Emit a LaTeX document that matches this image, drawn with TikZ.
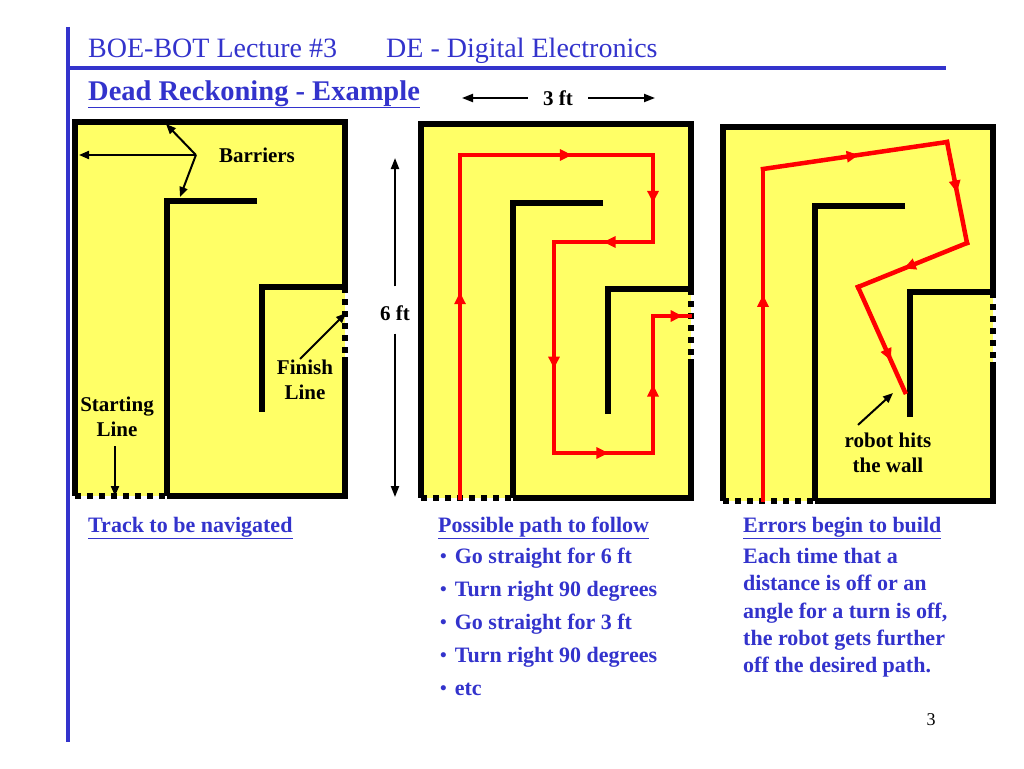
\documentclass[tikz,border=0pt]{standalone}
\usepackage{fontspec}
\setmainfont{Liberation Serif}
\usepackage{tikz}
\usetikzlibrary{arrows.meta,positioning,decorations.markings}
\definecolor{drBlue}{HTML}{3333CC}
\definecolor{drYellow}{HTML}{FFFF66}
\definecolor{drRed}{HTML}{FF0000}
\newcommand{\drdot}{{\fontsize{19}{19}\selectfont\raisebox{1.5pt}{\textbullet}}\hspace{8pt}}
\tikzset{
  drwall/.style={draw=black,line width=5.5pt,line join=miter},
  drgate/.style={draw=black,line width=5.5pt,dash pattern=on 6pt off 6pt},
  drpath/.style={draw=drRed,line width=4pt,line cap=rect},
  drstep/.style={drpath,postaction={decorate},
                 decoration={markings,mark=at position #1 with {\arrow{Triangle[length=12pt,width=11pt]}}}},
  drnote/.style={-{Triangle[length=10pt,width=8pt]},line width=2pt},
  drdim/.style={-{Triangle[length=11pt,width=8pt]},line width=2pt},
  drlbl/.style={font=\bfseries\fontsize{21}{25}\selectfont,align=center,inner sep=1pt},
  drcap/.style={font=\bfseries\fontsize{22}{26}\selectfont,text=drBlue,anchor=base west,inner sep=0pt},
  drtxt/.style={text=drBlue,align=left,anchor=north west,inner sep=0pt},
  maze/.pic={
    \fill[drYellow] (0,0) rectangle (270,374);
    \draw[drwall] (270,165) -- (270,0) -- (0,0) -- (0,374);
    \draw[drwall] (92,374) -- (270,374) -- (270,235);
    \draw[drgate] (270,165) -- (270,235);
    \draw[drgate] (0,374) -- (92,374);
    \draw[drwall] (182,79) -- (92,79) -- (92,374);
    \draw[drwall] (270,165) -- (187,165) -- (187,290);
  },
}

\begin{document}
\begin{tikzpicture}[x=1pt,y=-1pt]
  \useasboundingbox (0,0) rectangle (1024,768);
  \draw[drBlue,line width=4pt] (68,27) -- (68,742);
  \draw[drBlue,line width=4pt] (68,68) -- (946,68);
  \node[anchor=base west,inner sep=0pt,text=drBlue,font=\fontsize{28}{32}\selectfont] (hdr) at (88,57) {BOE-BOT Lecture \#3};
  \node[anchor=base west,inner sep=0pt,text=drBlue,font=\fontsize{28}{32}\selectfont] (subj) at (386,57) {DE - Digital Electronics};
  \node[anchor=base west,inner sep=0pt,text=drBlue,font=\bfseries\fontsize{28.5}{32}\selectfont] (title) at (88,100) {\underline{Dead Reckoning - Example}};

  \pic at (75,122) {maze};
  \pic at (421,124) {maze};
  \pic at (723,127) {maze};

  \node[drlbl] (barriers) at (257,155) {Barriers};
  \coordinate[left=22pt of barriers.west] (bj);
  \coordinate (bwTop) at (166,124);
  \coordinate (bwLeft) at (79,155);
  \coordinate (bwIn) at (180,197);
  \draw[drnote] (bj) -- (bwTop);
  \draw[drnote] (bj) -- (bwLeft);
  \draw[drnote] (bj) -- (bwIn);
  \node[drlbl] (finish) at (305,380) {Finish\\Line};
  \coordinate (fl) at (346,313);
  \draw[drnote] ([xshift=-5pt]finish.north) -- (fl);
  \node[drlbl] (start) at (117,417) {Starting\\Line};
  \coordinate (sl) at (115,496);
  \draw[drnote,shorten <=8pt] (start.south -| sl) -- (sl);

  \node[drlbl] (threeft) at (558,98) {3 ft};
  \coordinate (tfl) at (462,98);
  \coordinate (tfr) at (655,98);
  \draw[drdim,shorten <=14pt] (threeft.west) -- (tfl);
  \draw[drdim,shorten <=14pt] (threeft.east) -- (tfr);
  \node[drlbl] (sixft) at (395,313) {6 ft};
  \coordinate (sft) at (395,158);
  \coordinate (sfb) at (395,497);
  \draw[drdim,shorten <=18pt] (sixft.north) -- (sft);
  \draw[drdim,shorten <=12pt] (sixft.south) -- (sfb);

  \coordinate (a1) at (460,498);
  \coordinate (a2) at (460,155);
  \coordinate (a3) at (653,155);
  \coordinate (a4) at (653,242);
  \coordinate (a5) at (554,242);
  \coordinate (a6) at (554,453);
  \coordinate (a7) at (653,453);
  \coordinate (a8) at (653,316);
  \coordinate (a9) at (690,316);
  \draw[drstep=0.6] (a1) -- (a2);
  \draw[drstep=0.58] (a2) -- (a3);
  \draw[drstep=0.55] (a3) -- (a4);
  \draw[drstep=0.5] (a4) -- (a5);
  \draw[drstep=0.6] (a5) -- (a6);
  \draw[drstep=0.55] (a6) -- (a7);
  \draw[drstep=0.5] (a7) -- (a8);
  \draw[drstep=0.8] (a8) -- (a9);

  \coordinate (b1) at (763,500);
  \coordinate (b2) at (763,169);
  \coordinate (b3) at (947,142);
  \coordinate (b4) at (967,243);
  \coordinate (b5) at (858,287);
  \coordinate (b6) at (905,392);
  \draw[drstep=0.62] (b1) -- (b2);
  \draw[drstep=0.52,line width=4.5pt] (b2) -- (b3);
  \draw[drstep=0.5,line width=4.5pt] (b3) -- (b4);
  \draw[drstep=0.58,line width=4.5pt] (b4) -- (b5);
  \draw[drstep=0.7,line width=4.5pt] (b5) -- (b6);
  \node[drlbl] (hits) at (888,453) {robot hits\\the wall};
  \coordinate (rw) at (893,393);
  \draw[drnote] ([xshift=-30pt,yshift=7pt]hits.north) -- (rw);

  \node[drcap] (capA) at (88,532) {\underline{Track to be navigated}};
  \node[drcap] (capB) at (438,532) {\underline{Possible path to follow}};
  \node[drcap] (capC) at (743,532) {\underline{Errors begin to build}};
  \node[drtxt,font=\bfseries\fontsize{22}{33}\selectfont] (steps) at (440,548)
    {\drdot Go straight for 6 ft\\\drdot Turn right 90 degrees\\
     \drdot Go straight for 3 ft\\\drdot Turn right 90 degrees\\\drdot etc};
  \node[drtxt,font=\bfseries\fontsize{22}{27.3}\selectfont] (errs) at (743,548)
    {Each time that a\\distance is off or an\\angle for a turn is off,\\the robot gets further\\off the desired path.};
  \node[font=\fontsize{18}{20}\selectfont] (pg) at (931,720) {3};
\end{tikzpicture}
\end{document}
